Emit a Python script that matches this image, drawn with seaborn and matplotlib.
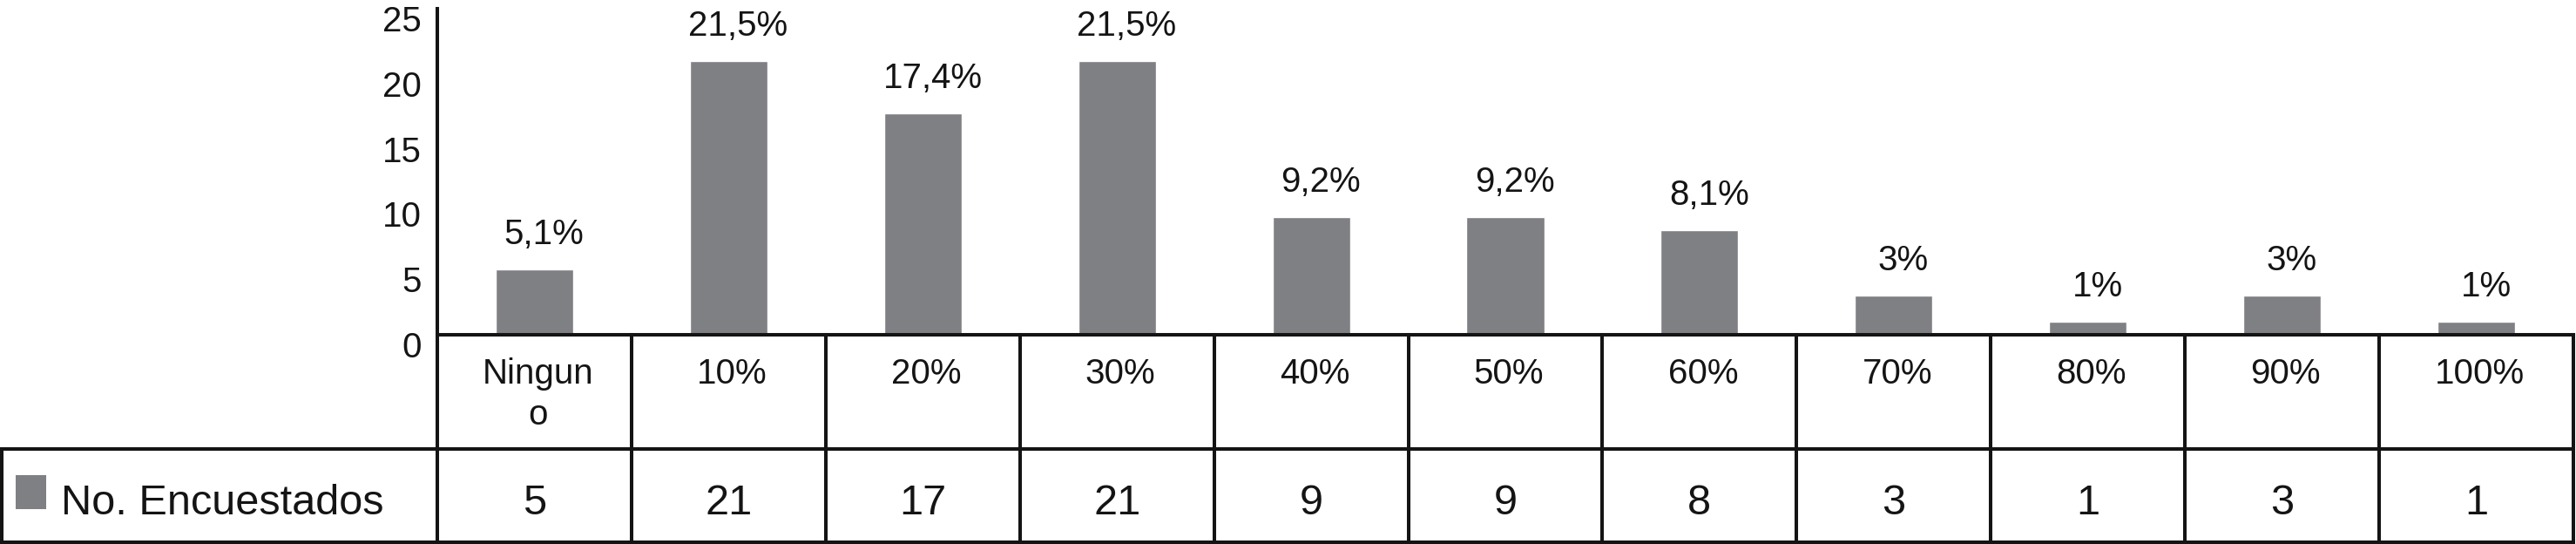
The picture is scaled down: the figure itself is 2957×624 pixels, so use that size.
import textwrap
import matplotlib
matplotlib.use("Agg")
import matplotlib.pyplot as plt
import matplotlib.transforms as mtransforms
from matplotlib.patches import Rectangle
import seaborn as sns
import pandas as pd

# ---- data ----
categories = ["Ninguno", "10%", "20%", "30%", "40%", "50%", "60%", "70%", "80%", "90%", "100%"]
counts = [5, 21, 17, 21, 9, 9, 8, 3, 1, 3, 1]
pct_labels = ["5,1%", "21,5%", "17,4%", "21,5%", "9,2%", "9,2%", "8,1%", "3%", "1%", "3%", "1%"]
series_name = "No. Encuestados"
yticks = [0, 5, 10, 15, 20, 25]

BAR = "#7f8084"
LW = 2.9
W, H = 2957, 624
DPI = 100
TXT = "#141414"

sns.set_style("white")
plt.rcParams["font.family"] = ["Liberation Sans", "DejaVu Sans"]

fig = plt.figure(figsize=(W / DPI, H / DPI), dpi=DPI)
ax = fig.add_axes([502 / W, (H - 384) / H, (2954 - 502) / W, (384 - 10) / H])

df = pd.DataFrame({"cat": categories, "n": counts})
sns.barplot(data=df, x="cat", y="n", color=BAR, saturation=1, width=0.4, ax=ax, order=categories)

ax.set_xlim(-0.5, len(categories) - 0.5)
ax.set_ylim(0, 25)
ax.set_yticks(yticks)
ax.set_xlabel("")
ax.set_ylabel("")
ax.tick_params(axis="x", length=0, labelbottom=False)
ax.tick_params(axis="y", length=0, pad=13, labelsize=29, labelcolor=TXT)
for s in ["top", "right"]:
    ax.spines[s].set_visible(False)
for s in ["left", "bottom"]:
    ax.spines[s].set_color(TXT)
    ax.spines[s].set_linewidth(LW)

off = mtransforms.ScaledTranslation(0, -11 / DPI, fig.dpi_scale_trans)
for lab in ax.get_yticklabels():
    lab.set_transform(lab.get_transform() + off)

# percent labels above bars
for i, (v, t) in enumerate(zip(counts, pct_labels)):
    ax.annotate(t, (i, v), xytext=(8, 21), textcoords="offset points",
                ha="center", va="baseline", fontsize=29, color=TXT)

# ---- data table ----
blend = mtransforms.blended_transform_factory(ax.transData, fig.transFigure)
fy = lambda px: (H - px) / H
n = len(categories)
xoff = mtransforms.ScaledTranslation(4 / DPI, 0, fig.dpi_scale_trans)

# vertical column boundaries
for k in range(n + 1):
    ax.plot([k - 0.5, k - 0.5], [fy(384), fy(621.5)], transform=blend, color=TXT,
            lw=LW, clip_on=False, solid_capstyle="projecting")
# horizontal lines
fig.add_artist(plt.Line2D([0, 2954 / W], [fy(514.5), fy(514.5)], color=TXT, lw=LW))
fig.add_artist(plt.Line2D([0, 2954 / W], [fy(621.5), fy(621.5)], color=TXT, lw=LW))
fig.add_artist(plt.Line2D([1.5 / W, 1.5 / W], [fy(514.5), fy(621.5)], color=TXT, lw=LW))

# category labels (row 1)
for i, c in enumerate(categories):
    ax.text(i, fy(410), textwrap.fill(c, 6), transform=blend + xoff, ha="center", va="top",
            fontsize=29, color=TXT, linespacing=1.3)

# counts row (row 2)
for i, v in enumerate(counts):
    ax.text(i, fy(590), str(v), transform=blend, ha="center", va="baseline",
            fontsize=35, color=TXT)

# legend cell
fig.add_artist(Rectangle((18 / W, fy(584)), 35 / W, 39 / H, transform=fig.transFigure,
                         facecolor=BAR, edgecolor="none"))
fig.text(70 / W, fy(590), series_name, ha="left", va="baseline", fontsize=35, color=TXT)

fig.savefig("out.png", dpi=DPI)
